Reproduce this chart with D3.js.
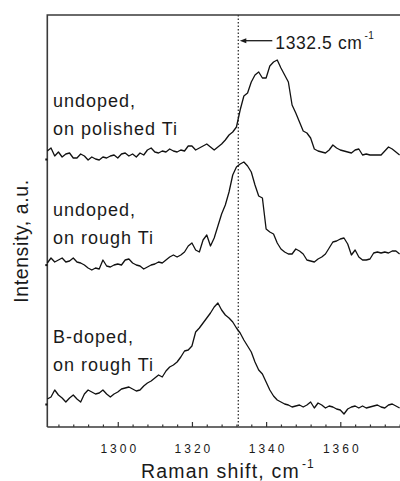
<!DOCTYPE html>
<html>
<head>
<meta charset="utf-8">
<script src="https://cdn.jsdelivr.net/npm/d3@7"></script>
<style>
  body { margin: 0; background: #fff; }
  text { font-family: "Liberation Sans", Arial, sans-serif; fill: #1a1a1a; }
</style>
</head>
<body>
<svg></svg>
<script>
// Raman spectra, 1 cm-1 steps starting at 1281
var startShift = 1281;

var polished = [69, 69.75, 67.75, 68.75, 67.5, 68.25, 68.5, 67.25, 67.25, 68.25,
  67.75, 66.75, 67.5, 67, 66.75, 67.5, 67.25, 67.75, 68, 67.25,
  68.25, 68.5, 67.75, 68.25, 67.5, 68.5, 68, 69.25, 69.75, 68.75,
  68.5, 69, 68.75, 69.5, 69, 68.75, 69.25, 69, 70.25, 70.25,
  69.25, 69.75, 70.25, 70.75, 70, 69.25, 70, 70.75, 71.75, 73,
  73.75, 75, 79.25, 82.75, 83.5, 86.25, 88, 88.75, 87.25, 87.25,
  90.25, 91.25, 91.75, 89.75, 88, 86.25, 80.5, 78.5, 76.25, 74,
  73.5, 72.25, 69.5, 69, 68.75, 68.5, 69.25, 70.5, 69.75, 69.25,
  69, 68.75, 68.5, 69.25, 69.5, 68, 68.25, 68, 68, 68,
  68, 69, 70, 69.5, 68.75, 68];

var rough = [41, 42.25, 41.25, 41.75, 42.25, 41.25, 41.5, 42.25, 41.25, 41,
  40.5, 39.75, 39.25, 39.75, 39.5, 41.75, 40.25, 40, 40.5, 40.75,
  40.5, 41.75, 42, 41, 40.5, 40.25, 39.5, 40, 40.5, 40.75,
  41.25, 41, 41.75, 42.5, 43, 42.5, 43, 43.75, 45.25, 46,
  44.25, 43.75, 46.75, 48, 45.25, 47.25, 50.25, 53.25, 55.5, 58.75,
  63, 65, 65.75, 66.25, 65.25, 63.75, 60.5, 57.75, 57.25, 49.5,
  48.75, 48.25, 46, 44.5, 43.75, 43.25, 43.25, 44.5, 44, 43.25,
  41.75, 41.5, 41.25, 42, 42.5, 43.25, 44.75, 46.25, 46.5, 47,
  47.25, 45.75, 43, 44.25, 42.5, 41.75, 41.75, 42, 43.5, 43.75,
  43.5, 43.75, 43.5, 44, 44, 43.25];

var bdoped = [7, 7.5, 9.25, 8, 7.25, 6.25, 7.25, 8, 7, 6.25,
  8.25, 9.25, 8.75, 8.25, 8.5, 9.25, 8.25, 7.5, 8.25, 8.75,
  9.5, 9.75, 10, 9.5, 9, 9.25, 10.25, 11, 11.5, 12.25,
  13, 12.5, 14, 15, 15.5, 16.25, 17.5, 19, 19.25, 20.25,
  23.75, 24.75, 26, 27.25, 28.5, 30, 31, 29.25, 28, 27.25,
  26.25, 24.75, 23.5, 21.75, 20.25, 18.75, 16.25, 14.25, 13.25, 11.25,
  9.25, 7.75, 6.75, 6.25, 5.75, 5.5, 5, 5.25, 5.5, 5,
  5.5, 6.25, 4.75, 6, 5.5, 4.75, 5.25, 5, 4.5, 4.25,
  3.25, 4.5, 5, 5.25, 4.75, 5.25, 4.75, 5, 5.25, 5.5,
  5, 4.75, 5.5, 5.75, 5.25, 4.75];

var baselines = [67, 40.6, 5.75];
var majorTicks = [1300, 1320, 1340, 1360];
var diamondLine = 1332.5;
var labels = [["undoped,", "on polished Ti"], ["undoped,", "on rough Ti"], ["B-doped,", "on rough Ti"]];

var svgWidth = 400, svgHeight = 481;
var plotLeft = 47.3, plotRight = 400, plotTop = 15, plotBottom = 427;

var svg = d3.select("svg")
  .attr("width", svgWidth)
  .attr("height", svgHeight);

var xScale = d3.scaleLinear()
  .domain([1281, 1376.1])
  .range([plotLeft, plotRight]);
var yScale = d3.scaleLinear()
  .domain([0, 103])
  .range([plotBottom, plotTop]);

// frame (right side falls outside the picture)
svg.append("path")
  .attr("d", "M" + plotLeft + "," + plotBottom + "V" + plotTop + "H" + (plotRight + 5))
  .attr("fill", "none")
  .attr("stroke", "#3a3a3a")
  .attr("stroke-width", 1.6);

// bottom axis, ticks pointing inwards
var minor = d3.range(1284, 1377, 4).filter(function(d){ return majorTicks.indexOf(d) < 0; });
svg.append("g")
  .attr("transform", "translate(0," + plotBottom + ")")
  .call(d3.axisBottom(xScale).tickValues(minor).tickSize(-2.5).tickFormat(""))
  .call(function(g){ g.select(".domain").remove(); });

var xAxis = svg.append("g")
  .attr("transform", "translate(0," + plotBottom + ")")
  .call(d3.axisBottom(xScale).tickValues(majorTicks).tickSize(-5).tickPadding(17).tickFormat(d3.format("d")));
xAxis.select(".domain")
  .attr("d", "M" + plotLeft + ",0H" + (plotRight + 5))
  .attr("stroke", "#3a3a3a")
  .attr("stroke-width", 1.6);
xAxis.selectAll(".tick text")
  .attr("font-size", 12)
  .attr("letter-spacing", 3)
  .attr("dx", 1.5)
  .attr("fill", "#1a1a1a");
svg.selectAll(".tick line").attr("stroke", "#333").attr("stroke-width", 1.2);

// small marks on the left axis at each spectrum's baseline
svg.append("g")
  .attr("transform", "translate(" + plotLeft + ",0)")
  .call(d3.axisLeft(yScale).tickValues(baselines).tickSize(2).tickFormat(""))
  .call(function(g){ g.select(".domain").remove(); })
  .selectAll("line").attr("stroke", "#111").attr("stroke-width", 2);

// dotted reference line
svg.append("line")
  .attr("x1", xScale(diamondLine))
  .attr("x2", xScale(diamondLine))
  .attr("y1", plotTop)
  .attr("y2", plotBottom)
  .attr("stroke", "#333")
  .attr("stroke-width", 1.3)
  .attr("stroke-dasharray", "1.5,2");

// spectra
var line = d3.line()
  .x(function(d, i){ return xScale(startShift + i); })
  .y(function(d){ return yScale(d); });

svg.selectAll(".spectrum")
  .data([polished, rough, bdoped])
  .enter()
  .append("path")
  .attr("class", "spectrum")
  .attr("d", line)
  .attr("fill", "none")
  .attr("stroke", "#111")
  .attr("stroke-width", 1.3)
  .attr("stroke-linejoin", "round");

// labels
var labelY = [106.5, 215.7, 342.7];
labels.forEach(function(lab, i){
  var t = svg.append("text")
    .attr("x", 53)
    .attr("y", labelY[i])
    .attr("font-size", 18)
    .attr("letter-spacing", 1);
  t.append("tspan").attr("x", 53).text(lab[0]);
  t.append("tspan").attr("x", 53).attr("dy", 28).text(lab[1]);
});

// annotation with arrow
var ax = xScale(diamondLine);
svg.append("line")
  .attr("x1", ax + 6).attr("x2", ax + 34)
  .attr("y1", 40.7).attr("y2", 40.7)
  .attr("stroke", "#1a1a1a").attr("stroke-width", 1.3);
svg.append("path")
  .attr("d", "M" + (ax + 1.5) + ",40.7L" + (ax + 8) + ",38.2L" + (ax + 8) + ",43.2Z")
  .attr("fill", "#1a1a1a");
var ann = svg.append("text")
  .attr("x", ax + 37)
  .attr("y", 49)
  .attr("font-size", 17.5)
  .attr("letter-spacing", 0.6);
ann.append("tspan").text(diamondLine + " cm");
ann.append("tspan").attr("font-size", 10).attr("dy", -10).attr("dx", 2).text("-1");

// axis titles
var xt = svg.append("text")
  .attr("x", 228)
  .attr("y", 478)
  .attr("text-anchor", "middle")
  .attr("font-size", 19.5)
  .attr("letter-spacing", 1.2);
xt.append("tspan").text("Raman shift, cm");
xt.append("tspan").attr("font-size", 12).attr("dy", -10).attr("dx", 2).text("-1");

svg.append("text")
  .attr("transform", "translate(28,241) rotate(-90)")
  .attr("text-anchor", "middle")
  .attr("font-size", 19.5)
  .attr("letter-spacing", 0.6)
  .text("Intensity, a.u.");
</script>
</body>
</html>
